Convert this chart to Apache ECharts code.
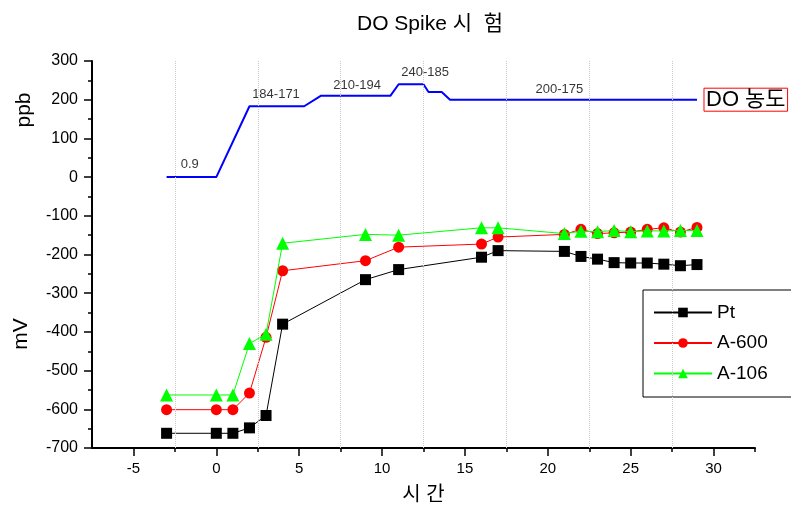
<!DOCTYPE html>
<html>
<head>
<meta charset="utf-8">
<script src="https://cdn.jsdelivr.net/npm/echarts@6/dist/echarts.min.js"></script>
<style>
  html, body { margin: 0; padding: 0; background: #fff; }
  #chart { width: 791px; height: 511px; }
</style>
</head>
<body>
<div id="chart"></div>
<script>
// time axis values
const hours = [-3, 0, 1, 2, 3, 4, 9, 11, 16, 17, 21, 22, 23, 24, 25, 26, 27, 28, 29];
const ptValues = [-662, -662, -662, -648, -616, -380, -265, -239, -207, -190, -192, -205, -212, -221, -222, -222, -225, -229, -226];
const a600Values = [-601, -601, -601, -558, -414, -242, -216, -181, -173, -155, -148, -135, -146, -144, -142, -135, -131, -142, -130];
const a106Values = [-563, -563, -563, -430, -406, -171, -148, -150, -131, -131, -146, -140, -141, -138, -141, -139, -139, -138, -138];

// DO concentration (ppb) trace
const doX = [-3, 0, 2, 5.3, 6.3, 10.5, 11, 12.5, 12.8, 13.6, 14.1, 29];
const doY = [0, 0, 183, 183, 210, 210, 240, 240, 220, 220, 200, 200];

// range annotations along the DO trace
const noteText = ['0.9', '184-171', '210-194', '240-185', '200-175'];
const noteX = [-1.6, 3.6, 8.5, 12.6, 20.7];
const noteY = [34, 214, 238, 270, 226];

const xLabelTicks = [-5, 0, 5, 10, 15, 20, 25, 30];
const xMinorTicks = [-2.5, 2.5, 7.5, 12.5, 17.5, 22.5, 27.5, 32.5];
const gridLinesX = [-2.5, 2.5, 7.5, 12.5, 17.5, 22.5, 27.5];

const font = "'Liberation Sans', 'Noto Sans CJK KR', sans-serif";
const zip = (xs, ys) => xs.map((x, i) => [x, ys[i]]);

const chart = echarts.init(document.getElementById('chart'));
chart.setOption({
  animation: false,
  textStyle: { fontFamily: font, color: '#000' },
  title: {
    text: 'DO Spike 시  험',
    left: 352,
    top: 9,
    textStyle: { fontFamily: font, fontSize: 21, fontWeight: 'normal', color: '#000' },
  },
  grid: { left: 92, right: 36, top: 61, bottom: 63, outerBoundsMode: 'none' },
  legend: {
    orient: 'vertical',
    left: 643,
    top: 290,
    data: ['Pt', 'A-600', 'A-106'],
    borderColor: '#000',
    borderWidth: 1,
    padding: [13, 60, 14, 10],
    itemWidth: 58,
    itemHeight: 12,
    itemGap: 11.5,
    textStyle: { fontFamily: font, fontSize: 19, color: '#000' },
  },
  graphic: [
    {
      type: 'text', x: 24, y: 110, rotation: Math.PI / 2,
      style: { text: 'ppb', fontFamily: font, fontSize: 21, fill: '#000', align: 'center', verticalAlign: 'middle' },
    },
    {
      type: 'text', x: 21, y: 334, rotation: Math.PI / 2,
      style: { text: 'mV', fontFamily: font, fontSize: 21, fill: '#000', align: 'center', verticalAlign: 'middle' },
    },
  ],
  xAxis: [
    {
      type: 'value',
      min: -7.5,
      max: 32.5,
      name: '시 간',
      nameLocation: 'middle',
      nameGap: 37,
      nameTextStyle: { fontFamily: font, fontSize: 20, color: '#000' },
      axisLine: { show: true, onZero: false, lineStyle: { color: '#000', width: 2 } },
      axisTick: { show: true, customValues: xLabelTicks, length: 8, lineStyle: { color: '#000', width: 1.5 } },
      axisLabel: { customValues: xLabelTicks, fontSize: 15, color: '#000', margin: 13, fontFamily: font },
      splitLine: { show: false },
    },
    {
      type: 'value',
      position: 'bottom',
      min: -7.5,
      max: 32.5,
      axisLine: { show: false, onZero: false },
      axisTick: { show: true, customValues: xMinorTicks, length: 4, lineStyle: { color: '#000', width: 1.5 } },
      axisLabel: { show: false },
      splitLine: { show: false },
    },
  ],
  yAxis: {
    type: 'value',
    min: -700,
    max: 300,
    interval: 100,
    axisLine: { show: true, onZero: false, lineStyle: { color: '#000', width: 2 } },
    axisTick: { show: true, length: 8, lineStyle: { color: '#000', width: 1.5 } },
    minorTick: { show: true, splitNumber: 2, length: 4, lineStyle: { color: '#000', width: 1.5 } },
    axisLabel: { fontSize: 16, color: '#000', margin: 14, fontFamily: font },
    splitLine: { show: false },
  },
  series: [
    {
      name: 'notes',
      type: 'scatter',
      z: 1,
      symbolSize: 0,
      data: noteText.map((t, i) => ({ name: t, value: [noteX[i], noteY[i]] })),
      label: {
        show: true,
        position: 'inside',
        formatter: (p) => p.name,
        fontSize: 13,
        color: '#000',
        fontFamily: font,
      },
      markLine: {
        silent: true,
        symbol: 'none',
        label: { show: false },
        lineStyle: { color: '#c8c8c8', type: 'dotted', width: 1 },
        data: gridLinesX.map((x) => ({ xAxis: x })),
      },
    },
    {
      name: 'DO 농도',
      type: 'line',
      z: 3,
      data: zip(doX, doY),
      showSymbol: false,
      lineStyle: { color: '#0000ff', width: 2 },
      itemStyle: { color: '#0000ff' },
      endLabel: {
        show: true,
        formatter: 'DO 농도',
        distance: 7,
        fontSize: 22,
        color: '#000',
        fontFamily: font,
        borderColor: '#ff0000',
        borderWidth: 1,
        padding: [1, 2, 0, 2],
      },
    },
    {
      name: 'Pt',
      type: 'line',
      z: 3,
      data: zip(hours, ptValues),
      symbol: 'rect',
      symbolSize: 11,
      lineStyle: { color: '#000', width: 1 },
      itemStyle: { color: '#000' },
    },
    {
      name: 'A-600',
      type: 'line',
      z: 4,
      data: zip(hours, a600Values),
      symbol: 'circle',
      symbolSize: 11,
      lineStyle: { color: '#ff0000', width: 1 },
      itemStyle: { color: '#ff0000' },
    },
    {
      name: 'A-106',
      type: 'line',
      z: 5,
      data: zip(hours, a106Values),
      symbol: 'triangle',
      symbolSize: 13,
      lineStyle: { color: '#00ff00', width: 1 },
      itemStyle: { color: '#00ff00' },
    },
  ],
});
</script>
</body>
</html>
